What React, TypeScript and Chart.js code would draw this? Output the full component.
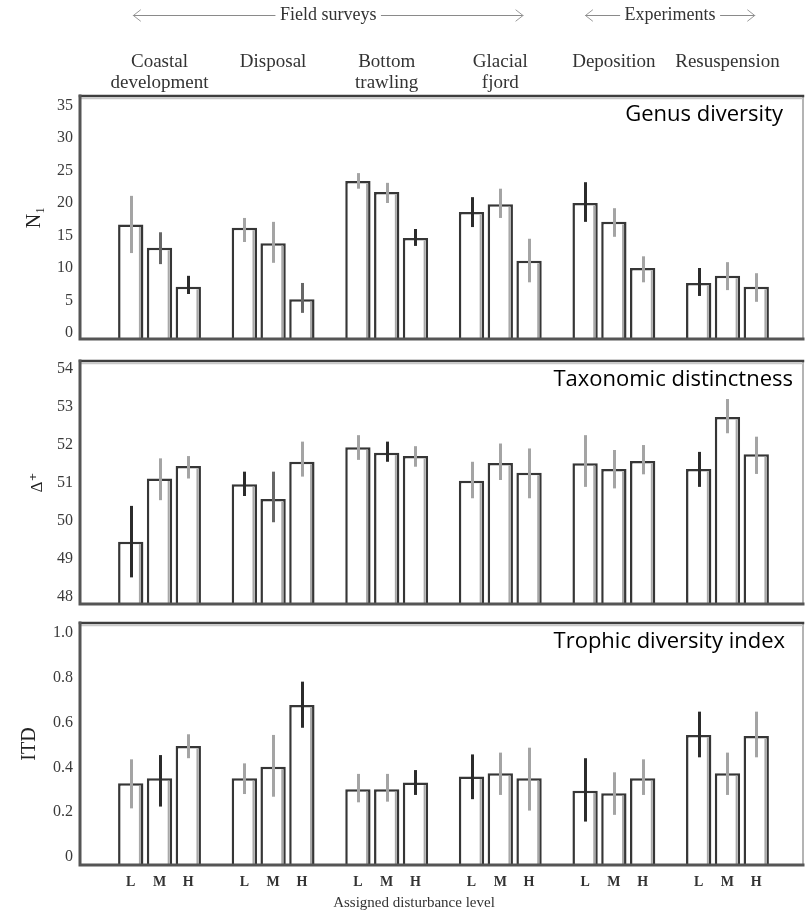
import React, { useEffect, useRef } from "react";
import { Chart, registerables } from "chart.js";

Chart.register(...registerables);

// ---------- data ----------
const groups: string[][] = [
  ["Coastal", "development"],
  ["Disposal", ""],
  ["Bottom", "trawling"],
  ["Glacial", "fjord"],
  ["Deposition", ""],
  ["Resuspension", ""],
];
const levels = ["L", "M", "H"];

// Genus diversity (N1)
const genusL = [16.7, 16.2, 23.4, 18.6, 20.0, 7.7];
const genusM = [13.1, 13.8, 21.7, 19.8, 17.1, 8.8];
const genusH = [7.1, 5.2, 14.6, 11.1, 10.0, 7.1];
const genusHiL = [21.1, 17.7, 24.6, 20.9, 23.2, 10.0];
const genusLoL = [12.3, 14.0, 22.2, 16.3, 17.1, 5.7];
const genusHiM = [15.5, 17.1, 23.1, 22.2, 19.2, 10.9];
const genusLoM = [10.6, 10.8, 20.0, 17.7, 14.8, 6.6];
const genusHiH = [8.8, 7.7, 16.0, 14.5, 11.8, 9.2];
const genusLoH = [6.0, 3.1, 13.4, 7.8, 7.8, 4.8];
const genusShadeL = ["g", "g", "g", "d", "d", "d"];
const genusShadeM = ["m", "g", "g", "g", "g", "g"];
const genusShadeH = ["d", "m", "d", "g", "g", "g"];
const genusTicks = [0, 5, 10, 15, 20, 25, 30, 35];
const genusTickLabels = ["0", "5", "10", "15", "20", "25", "30", "35"];

// Taxonomic distinctness (Delta+)
const tdL = [49.46, 50.97, 51.94, 51.06, 51.52, 51.37];
const tdM = [51.12, 50.58, 51.8, 51.53, 51.37, 52.74];
const tdH = [51.45, 51.56, 51.71, 51.27, 51.58, 51.76];
const tdHiL = [50.4, 51.3, 52.26, 51.56, 52.26, 51.82];
const tdLoL = [48.52, 50.66, 51.61, 50.6, 50.9, 50.9];
const tdHiM = [51.65, 51.3, 52.09, 52.04, 51.87, 53.21];
const tdLoM = [50.55, 49.97, 51.56, 51.08, 50.86, 52.31];
const tdHiH = [51.71, 52.09, 51.97, 51.91, 52.0, 52.22];
const tdLoH = [51.12, 51.17, 51.43, 50.6, 51.23, 51.24];
const tdShadeL = ["d", "d", "g", "g", "g", "d"];
const tdShadeM = ["g", "m", "d", "g", "g", "g"];
const tdShadeH = ["g", "g", "g", "g", "g", "g"];
const tdTicks = [48, 49, 50, 51, 52, 53, 54];
const tdTickLabels = ["48", "49", "50", "51", "52", "53", "54"];

// Trophic diversity index (ITD)
const itdL = [0.329, 0.351, 0.302, 0.359, 0.296, 0.545];
const itdM = [0.351, 0.403, 0.302, 0.374, 0.284, 0.374];
const itdH = [0.496, 0.679, 0.332, 0.351, 0.351, 0.54];
const itdHiL = [0.436, 0.418, 0.371, 0.458, 0.441, 0.649];
const itdLoL = [0.217, 0.281, 0.244, 0.258, 0.158, 0.445];
const itdHiM = [0.455, 0.545, 0.371, 0.466, 0.378, 0.466];
const itdLoM = [0.225, 0.269, 0.247, 0.277, 0.188, 0.277];
const itdHiH = [0.548, 0.783, 0.388, 0.488, 0.436, 0.649];
const itdLoH = [0.441, 0.577, 0.277, 0.207, 0.277, 0.445];
const itdShadeL = ["g", "g", "g", "d", "d", "d"];
const itdShadeM = ["d", "g", "g", "g", "g", "g"];
const itdShadeH = ["g", "d", "d", "g", "g", "g"];
const itdTicks = [0, 0.2, 0.4, 0.6, 0.8, 1.0];
const itdTickLabels = ["0", "0.2", "0.4", "0.6", "0.8", "1.0"];

const headerSpans: { text: string; from: number; to: number }[] = [
  { text: "Field surveys", from: -0.23, to: 3.2 },
  { text: "Experiments", from: 3.75, to: 5.24 },
];
const xAxisTitle = "Assigned disturbance level";

// ---------- styling ----------
const SERIF = '"Liberation Serif", "DejaVu Serif", serif';
const SANS = '"Open Sans", "Noto Sans", sans-serif';
const SHADE: Record<string, string> = { d: "#2b2b2b", m: "#676767", g: "#a4a4a4" };

type PanelDef = {
  key: string;
  top: number;
  height: number;
  means: number[][];
  his: number[][];
  los: number[][];
  shades: string[][];
  yMin: number;
  yMax: number;
  yTicks: number[];
  yTickLabels: string[];
  yTitle: string;
  yTitleSize: number;
  yTitlePad: number;
  label: string;
  labelInset: number;
  padTop: number;
  padBottom: number;
  xPos: "top" | "bottom";
  xHeight: number;
  showGroups: boolean;
  showLevels: boolean;
};

const panels: PanelDef[] = [
  {
    key: "genus",
    top: 0,
    height: 345,
    means: [genusL, genusM, genusH],
    his: [genusHiL, genusHiM, genusHiH],
    los: [genusLoL, genusLoM, genusLoH],
    shades: [genusShadeL, genusShadeM, genusShadeH],
    yMin: -0.92,
    yMax: 36.46,
    yTicks: genusTicks,
    yTickLabels: genusTickLabels,
    yTitle: "N\u2081",
    yTitleSize: 20,
    yTitlePad: 23,
    label: "Genus diversity",
    labelInset: 20,
    padTop: 0,
    padBottom: 6,
    xPos: "top",
    xHeight: 96,
    showGroups: true,
    showLevels: false,
  },
  {
    key: "td",
    top: 345,
    height: 265,
    means: [tdL, tdM, tdH],
    his: [tdHiL, tdHiM, tdHiH],
    los: [tdLoL, tdLoM, tdLoH],
    shades: [tdShadeL, tdShadeM, tdShadeH],
    yMin: 47.82,
    yMax: 54.21,
    yTicks: tdTicks,
    yTickLabels: tdTickLabels,
    yTitle: "\u0394\u207A",
    yTitleSize: 17,
    yTitlePad: 27,
    label: "Taxonomic distinctness",
    labelInset: 10,
    padTop: 16,
    padBottom: 0,
    xPos: "bottom",
    xHeight: 6,
    showGroups: false,
    showLevels: false,
  },
  {
    key: "itd",
    top: 610,
    height: 305,
    means: [itdL, itdM, itdH],
    his: [itdHiL, itdHiM, itdHiH],
    los: [itdLoL, itdLoM, itdLoH],
    shades: [itdShadeL, itdShadeM, itdShadeH],
    yMin: -0.036,
    yMax: 1.045,
    yTicks: itdTicks,
    yTickLabels: itdTickLabels,
    yTitle: "ITD",
    yTitleSize: 20,
    yTitlePad: 18,
    label: "Trophic diversity index",
    labelInset: 18,
    padTop: 13,
    padBottom: 0,
    xPos: "bottom",
    xHeight: 50,
    showGroups: false,
    showLevels: true,
  },
];

function makeDecoPlugin(p: PanelDef) {
  return {
    id: "deco_" + p.key,
    afterDatasetsDraw(chart: any) {
      const { ctx, chartArea: a, scales } = chart;
      const ys = scales.y;
      const xs = scales.x;
      ctx.save();
      // inner grey shading of bar right edges (double-line look)
      ctx.strokeStyle = "#a8a8a8";
      ctx.lineWidth = 2;
      for (let d = 0; d < levels.length; d++) {
        chart.getDatasetMeta(d).data.forEach((el: any) => {
          const xr = el.x + el.width / 2 - 3.5;
          ctx.beginPath();
          ctx.moveTo(xr, el.y + 2.5);
          ctx.lineTo(xr, el.base);
          ctx.stroke();
        });
      }
      // error bars
      for (let d = 0; d < levels.length; d++) {
        const meta = chart.getDatasetMeta(d);
        meta.data.forEach((el: any, i: number) => {
          ctx.strokeStyle = SHADE[p.shades[d][i]];
          ctx.lineWidth = 3;
          ctx.lineCap = "butt";
          ctx.beginPath();
          ctx.moveTo(Math.round(el.x) + 0.5, ys.getPixelForValue(p.his[d][i]));
          ctx.lineTo(Math.round(el.x) + 0.5, ys.getPixelForValue(p.los[d][i]));
          ctx.stroke();
        });
      }
      // frame
      ctx.lineCap = "square";
      ctx.strokeStyle = "#b4b4b4";
      ctx.lineWidth = 2;
      ctx.beginPath();
      ctx.moveTo(a.right, a.top);
      ctx.lineTo(a.right, a.bottom);
      ctx.stroke();
      ctx.strokeStyle = "#3e3e3e";
      ctx.lineWidth = 2.5;
      ctx.beginPath();
      ctx.moveTo(a.left, a.top);
      ctx.lineTo(a.right, a.top);
      ctx.stroke();
      ctx.strokeStyle = "#c8c8c8";
      ctx.lineWidth = 1.5;
      ctx.beginPath();
      ctx.moveTo(a.left, a.top + 2.5);
      ctx.lineTo(a.right - 1, a.top + 2.5);
      ctx.stroke();
      ctx.strokeStyle = "#555";
      ctx.lineWidth = 3;
      ctx.beginPath();
      ctx.moveTo(a.left, a.top);
      ctx.lineTo(a.left, a.bottom);
      ctx.lineTo(a.right, a.bottom);
      ctx.stroke();

      // panel label
      ctx.fillStyle = "#000";
      ctx.font = "22px " + SANS;
      ctx.textAlign = "right";
      ctx.textBaseline = "middle";
      ctx.fillText(p.label, a.right - p.labelInset, a.top + 19);

      // header arrows
      if (p.showGroups) {
        const hy = 15;
        ctx.font = "18px " + SERIF;
        ctx.textAlign = "center";
        headerSpans.forEach((h) => {
          const x0 = xs.getPixelForValue(h.from);
          const x1 = xs.getPixelForValue(h.to);
          const cx = (x0 + x1) / 2;
          const tw = ctx.measureText(h.text).width;
          ctx.fillStyle = "#333";
          ctx.fillText(h.text, cx, hy);
          ctx.strokeStyle = "#8a8a8a";
          ctx.lineWidth = 1;
          ctx.beginPath();
          ctx.moveTo(x0, hy + 0.5);
          ctx.lineTo(cx - tw / 2 - 5, hy + 0.5);
          ctx.moveTo(cx + tw / 2 + 5, hy + 0.5);
          ctx.lineTo(x1, hy + 0.5);
          ctx.stroke();
          ctx.strokeStyle = "#999";
          ctx.beginPath();
          ctx.moveTo(x0 + 7, hy - 5);
          ctx.lineTo(x0, hy + 0.5);
          ctx.lineTo(x0 + 7, hy + 6);
          ctx.moveTo(x1 - 7, hy - 5);
          ctx.lineTo(x1, hy + 0.5);
          ctx.lineTo(x1 - 7, hy + 6);
          ctx.stroke();
        });
      }

      // L / M / H labels and axis title
      if (p.showLevels) {
        ctx.fillStyle = "#333";
        ctx.font = "bold 14px " + SERIF;
        ctx.textAlign = "center";
        ctx.textBaseline = "middle";
        for (let d = 0; d < levels.length; d++) {
          chart.getDatasetMeta(d).data.forEach((el: any) => {
            ctx.fillText(levels[d], el.x, a.bottom + 17);
          });
        }
        ctx.font = "15px " + SERIF;
        ctx.fillText(xAxisTitle, 414, a.bottom + 38);
      }
      ctx.restore();
    },
  };
}

function Panel({ p }: { p: PanelDef }) {
  const ref = useRef<HTMLCanvasElement>(null);
  useEffect(() => {
    const canvas = ref.current;
    if (!canvas) return;
    const chart = new Chart(canvas, {
      type: "bar",
      data: {
        datasets: levels.map((lv, d) => ({
          label: lv,
          data: p.means[d].map((v, i) => ({ x: i, y: v })),
          backgroundColor: "#ffffff",
          borderColor: "#363636",
          borderWidth: 2.5,
          base: p.yMin,
          categoryPercentage: 0.76,
          barPercentage: 0.88,
        })),
      },
      options: {
        animation: false,
        responsive: false,
        devicePixelRatio: 1,
        layout: { padding: { left: 0, right: 2, top: p.padTop, bottom: p.padBottom } },
        plugins: { legend: { display: false }, tooltip: { enabled: false } },
        scales: {
          x: {
            type: "linear",
            position: p.xPos,
            min: -0.7,
            max: 5.665,
            bounds: "data",
            offset: false,
            grid: { display: false, drawTicks: false },
            border: { display: false },
            afterBuildTicks: (s: any) => {
              s.ticks = groups.map((_, i) => ({ value: i }));
            },
            afterFit: (s: any) => {
              s.height = p.xHeight;
              s.paddingLeft = 0;
              s.paddingRight = 0;
            },
            ticks: {
              display: p.showGroups,
              autoSkip: false,
              maxRotation: 0,
              minRotation: 0,
              padding: 3,
              color: "#333",
              font: { family: SERIF, size: 19, lineHeight: 1.1 },
              callback: (v: any) => groups[Math.round(Number(v))] ?? "",
            },
          },
          y: {
            type: "linear",
            min: p.yMin,
            max: p.yMax,
            bounds: "data",
            grid: { display: false, drawTicks: false },
            border: { display: false },
            afterBuildTicks: (s: any) => {
              s.ticks = p.yTicks.map((v) => ({ value: v }));
            },
            afterFit: (s: any) => {
              s.width = 80;
              s.paddingTop = 0;
              s.paddingBottom = 0;
            },
            ticks: {
              padding: 7,
              color: "#3a3a3a",
              font: { family: SERIF, size: 16 },
              callback: (v: any, i: number) => p.yTickLabels[i] ?? String(v),
            },
            title: {
              display: true,
              text: p.yTitle,
              color: "#222",
              font: { family: SERIF, size: p.yTitleSize },
              padding: { top: p.yTitlePad, bottom: 0 },
            },
          },
        },
      } as any,
      plugins: [makeDecoPlugin(p)],
    });
    return () => chart.destroy();
  }, [p]);
  return (
    <canvas
      ref={ref}
      width={805}
      height={p.height}
      style={{ position: "absolute", left: 0, top: p.top, width: 805, height: p.height }}
    />
  );
}

export default function App() {
  return (
    <div
      style={{
        position: "absolute",
        left: 0,
        top: 0,
        width: 805,
        height: 915,
        background: "#ffffff",
        overflow: "hidden",
      }}
    >
      {panels.map((p) => (
        <Panel key={p.key} p={p} />
      ))}
    </div>
  );
}
